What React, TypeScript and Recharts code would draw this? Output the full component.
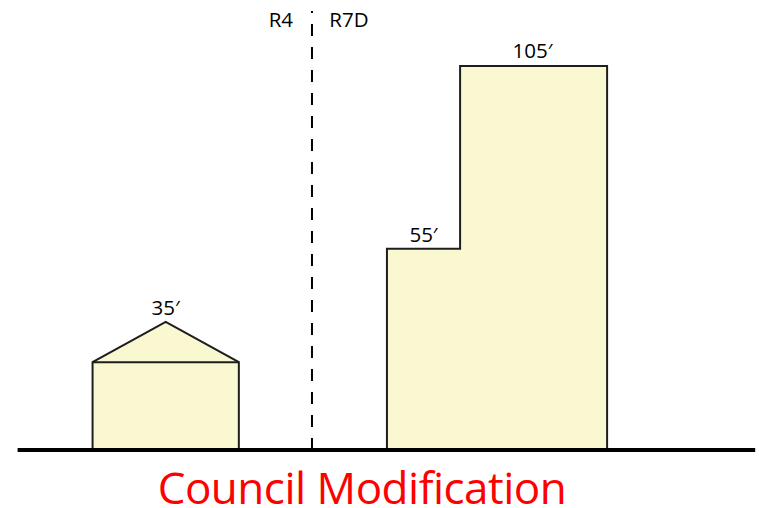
import { ComposedChart, Area, XAxis, YAxis, ReferenceLine, ReferenceDot } from 'recharts';

// horizontal positions in feet from the zoning line, heights in feet
const houseX = [-60, -60, -40, -20, -20];
const houseH = [0, 24, 35, 24, 0];
const towerX = [20.5, 20.5, 40.5, 40.5, 80.7, 80.7];
const towerH = [0, 55, 55, 105, 105, 0];

const heightLabels = ['35′', '55′', '105′'];
const heightLabelX = [-40, 30.5, 60.3];
const heightLabelY = [38.8, 58.8, 109.1];

const zoneLabels = ['R4', 'R7D'];
const zoneLabelX = [-8.5, 10.1];
const zoneLabelY = 117.5;

const title = 'Council Modification';

const houseData = houseX.map((x, i) => ({ x, h: houseH[i] }));
const towerData = towerX.map((x, i) => ({ x, h: towerH[i] }));

const FILL = '#faf8d0';
const EDGE = '#1e1e1e';
const FONT = '"Open Sans", sans-serif';

const txt = (value: string) => ({
  value,
  position: 'center' as const,
  fill: '#000',
  fontSize: 20.5,
  fontFamily: FONT,
});

export default function App() {
  return (
    <div style={{ position: 'absolute', left: 0, top: 0, width: 759, height: 508, background: '#fff', overflow: 'hidden' }}>
      <ComposedChart width={759} height={508} margin={{ top: 11, right: 3.8, bottom: 58, left: 17.6 }}>
        <XAxis type="number" dataKey="x" domain={[-80.5, 121.2]} hide allowDataOverflow />
        <YAxis type="number" domain={[0, 120]} hide allowDataOverflow />
        <Area data={houseData} dataKey="h" type="linear" fill={FILL} fillOpacity={1} stroke={EDGE} strokeWidth={2} isAnimationActive={false} />
        <Area data={towerData} dataKey="h" type="linear" fill={FILL} fillOpacity={1} stroke={EDGE} strokeWidth={2} isAnimationActive={false} />
        <ReferenceLine segment={[{ x: houseX[1], y: houseH[1] }, { x: houseX[3], y: houseH[3] }]} stroke={EDGE} strokeWidth={2} />
        <ReferenceLine x={0} stroke="#000" strokeWidth={2} strokeDasharray="12 11" />
        <ReferenceLine y={0} stroke="#000" strokeWidth={4} />
        {heightLabels.map((l, i) => (
          <ReferenceDot key={l} x={heightLabelX[i]} y={heightLabelY[i]} r={0} stroke="none" fill="none" label={txt(l)} />
        ))}
        {zoneLabels.map((l, i) => (
          <ReferenceDot key={l} x={zoneLabelX[i]} y={zoneLabelY} r={0} stroke="none" fill="none" label={txt(l)} />
        ))}
      </ComposedChart>
      <div
        style={{
          position: 'absolute',
          left: 0,
          top: 467,
          width: 724,
          textAlign: 'center',
          color: '#ff0000',
          fontFamily: FONT,
          fontSize: 44,
          lineHeight: '40px',
          letterSpacing: -0.5,
          whiteSpace: 'nowrap',
        }}
      >
        {title}
      </div>
    </div>
  );
}
